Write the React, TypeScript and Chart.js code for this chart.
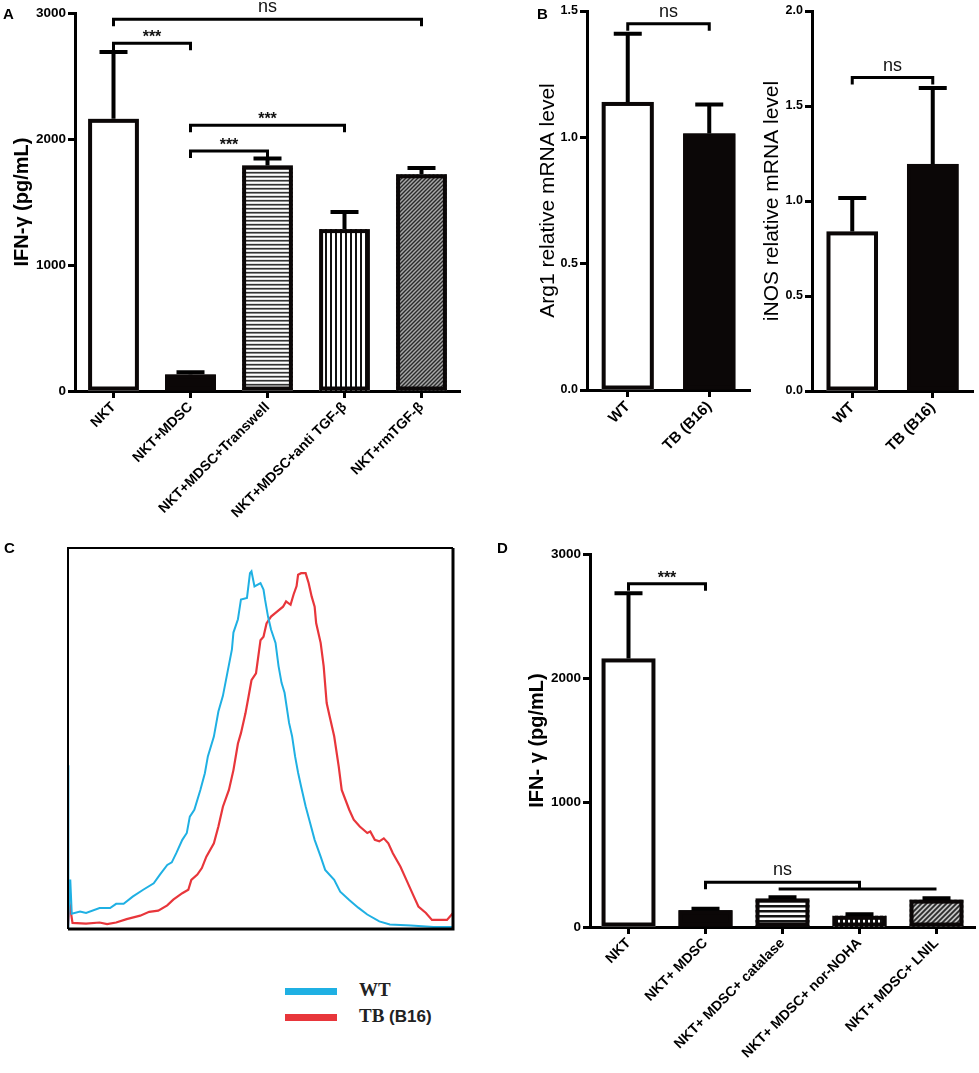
import { useEffect, useRef } from 'react';
import Chart from 'chart.js/auto';

const SANS = '"Liberation Sans", Arial, Helvetica, sans-serif';
const SERIF = '"Liberation Serif", "Times New Roman", serif';
const WT_BLUE = '#1fb0e3';
const TB_RED = '#e8363b';
const INK = '#0b0707';

// ---- panel A: IFN-γ with TGF-β blocking
const aLabels = ['NKT', 'NKT+MDSC', 'NKT+MDSC+Transwell', 'NKT+MDSC+anti TGF-β', 'NKT+rmTGF-β'];
const aMeans = [2160, 130, 1790, 1285, 1720];
const aErrors = [530, 18, 55, 135, 50];
const aFills = ['white', 'black', 'hlines', 'vlines', 'diag'];
const aTicks = [0, 1000, 2000, 3000];
const aBrackets = [
  { from: 0, to: 4, y: 2950, label: 'ns', legs: true },
  { from: 0, to: 1, y: 2760, label: '***', legs: true },
  { from: 1, to: 3, y: 2110, label: '***', legs: true },
  { from: 1, to: 2, y: 1905, label: '***', legs: true },
];

// ---- panel B: Arg1 / iNOS mRNA
const bLabels = ['WT', 'TB (B16)'];
const bFills = ['white', 'black'];
const arg1Means = [1.14, 1.015];
const arg1Errors = [0.27, 0.115];
const arg1Ticks = [0, 0.5, 1.0, 1.5];
const arg1Brackets = [{ from: 0, to: 1, y: 1.45, label: 'ns', legs: true }];
const inosMeans = [0.84, 1.195];
const inosErrors = [0.176, 0.4];
const inosTicks = [0, 0.5, 1.0, 1.5, 2.0];
const inosBrackets = [{ from: 0, to: 1, y: 1.65, label: 'ns', legs: true }];

// ---- panel C: flow histogram (channel, % of max)
const wtHistogram = [
  [0, 0], [0, 43], [0.5, 3], [1.5, 13], [2.5, 4], [8, 4.6], [12, 4.2], [21, 5.5], [28, 5.5], [32, 6.6],
  [37, 6.6], [43, 8.5], [50, 10.3], [57, 12.0], [61, 14.2], [66, 16.8], [69, 17.5], [72, 19.9], [76, 23.4],
  [79, 25.2], [81, 29.5], [84, 31.3], [88, 36.5], [91, 40.9], [93, 45.3], [97, 50.5], [100, 57.1],
  [103, 61.2], [106, 67.3], [109, 73.4], [110, 77.8], [113, 81.3], [115, 86.5], [119, 86.9], [121, 93.4],
  [122, 93.9], [124, 89.9], [128, 90.8], [130, 89.1], [131, 86.5], [133, 82.0], [135, 78.6], [138, 75.1],
  [140, 69.0], [142, 64.6], [144, 62.0], [147, 54.1], [149, 50.6], [151, 45.3], [153, 41.0], [155, 37.4],
  [158, 32.2], [161, 27.8], [164, 23.4], [168, 19.0], [171, 15.5], [177, 12.9], [181, 9.8], [187, 7.6],
  [193, 5.6], [199, 3.8], [207, 2.0], [214, 1.2], [228, 0.9], [243, 0.5], [256, 0.5],
];
const tbHistogram = [
  [0, 0.3], [1, 6.8], [3, 1.6], [12, 1.4], [21, 1.7], [26, 1.3], [32, 1.7], [39, 2.6], [48, 3.5], [54, 4.5],
  [60, 4.8], [66, 6.2], [70, 7.7], [76, 9.4], [80, 10.3], [82, 12.9], [86, 14.3], [89, 16.0], [92, 19.0],
  [97, 22.5], [100, 26.9], [103, 32.1], [107, 36.5], [110, 41.7], [113, 48.7], [115, 51.4], [118, 56.6],
  [120, 60.9], [122, 65.3], [125, 67.1], [128, 75.8], [130, 76.7], [132, 80.2], [135, 82.0], [139, 83.3],
  [143, 84.6], [145, 86.0], [148, 85.1], [150, 87.8], [152, 90.0], [153, 93.0], [155, 93.4], [158, 93.4],
  [160, 90.8], [162, 87.3], [164, 84.6], [165, 80.3], [168, 75.1], [170, 69.0], [172, 59.3], [174, 55.8],
  [177, 50.6], [180, 42.7], [182, 36.5], [187, 31.3], [190, 28.7], [194, 26.9], [199, 25.2], [201, 25.6],
  [204, 23.4], [207, 23.0], [210, 23.8], [213, 22.5], [216, 19.9], [221, 16.4], [225, 12.9], [230, 8.5],
  [233, 5.9], [238, 4.2], [242, 2.4], [252, 2.4], [256, 4.2],
];

// ---- panel D: IFN-γ with enzyme inhibitors
const dLabels = ['NKT', 'NKT+ MDSC', 'NKT+ MDSC+ catalase', 'NKT+ MDSC+ nor-NOHA', 'NKT+ MDSC+ LNIL'];
const dMeans = [2160, 135, 230, 90, 220];
const dErrors = [525, 12, 10, 12, 12];
const dFills = ['white', 'black', 'hlinesWide', 'vlinesShort', 'diagWide'];
const dTicks = [0, 1000, 2000, 3000];
const dBrackets = [
  { from: 0, to: 1, y: 2760, label: '***', legs: true },
  { from: 1, to: 3, y: 360, label: 'ns', legs: true },
  { from: 1.95, to: 4, y: 305, label: '', legs: false },
];

type Bracket = { from: number; to: number; y: number; label: string; legs: boolean };

function makeFill(kind: string): string | CanvasPattern {
  if (kind === 'white') return '#ffffff';
  if (kind === 'black') return INK;
  const c = document.createElement('canvas');
  const size = kind.endsWith('Wide') || kind === 'vlinesShort' || kind === 'vlines' ? 5 : 4;
  c.width = size;
  c.height = size;
  const g = c.getContext('2d')!;
  g.fillStyle = '#ffffff';
  g.fillRect(0, 0, size, size);
  if (kind === 'hlines') {
    g.fillStyle = '#333';
    g.fillRect(0, 0, size, 1);
    g.fillStyle = '#8a8a8a';
    g.fillRect(0, 1, size, 1);
    g.fillStyle = '#e0e0e0';
    g.fillRect(0, 3, size, 1);
  } else if (kind === 'hlinesWide') {
    g.fillStyle = '#151515';
    g.fillRect(0, 0, size, 2);
    g.fillStyle = '#888';
    g.fillRect(0, 2, size, 1);
  } else if (kind === 'vlines') {
    g.fillStyle = '#111';
    g.fillRect(0, 0, 2, size);
  } else if (kind === 'vlinesShort') {
    g.fillStyle = '#111';
    g.fillRect(0, 0, 3, size);
  } else {
    // diagonal hatch
    g.fillStyle = kind === 'diag' ? '#a8a8a8' : '#c4c4c4';
    g.fillRect(0, 0, size, size);
    g.strokeStyle = '#2a2a2a';
    g.lineWidth = kind === 'diag' ? 1.4 : 1.8;
    g.beginPath();
    g.moveTo(-1, size + 1);
    g.lineTo(size + 1, -1);
    g.moveTo(-1, 1);
    g.lineTo(1, -1);
    g.moveTo(size - 1, size + 1);
    g.lineTo(size + 1, size - 1);
    g.stroke();
  }
  return g.createPattern(c, 'repeat')!;
}

// bar outlines + upward SD whiskers
const errorBarPlugin = (errors: number[], cap: number) => ({
  id: 'errorBars',
  afterDatasetsDraw(chart: any) {
    const { ctx } = chart;
    const y = chart.scales.y;
    const meta = chart.getDatasetMeta(0);
    const values = chart.data.datasets[0].data as number[];
    ctx.save();
    ctx.strokeStyle = INK;
    ctx.lineWidth = 4;
    meta.data.forEach((bar: any) => {
      const { x, y: top, base, width } = bar.getProps(['x', 'y', 'base', 'width'], true);
      ctx.strokeRect(x - width / 2 + 2, top + 2, width - 4, base - top - 4);
    });
    ctx.strokeStyle = '#000';
    meta.data.forEach((bar: any, i: number) => {
      const top = y.getPixelForValue(values[i]);
      const end = y.getPixelForValue(values[i] + errors[i]);
      ctx.beginPath();
      ctx.moveTo(bar.x, top);
      ctx.lineTo(bar.x, end);
      ctx.moveTo(bar.x - cap / 2, end);
      ctx.lineTo(bar.x + cap / 2, end);
      ctx.stroke();
    });
    ctx.restore();
  },
});

const bracketPlugin = (items: Bracket[]) => ({
  id: 'brackets',
  afterDatasetsDraw(chart: any) {
    const { ctx } = chart;
    const { x, y } = chart.scales;
    ctx.save();
    ctx.strokeStyle = '#000';
    ctx.fillStyle = '#111';
    ctx.lineWidth = 3;
    items.forEach((b) => {
      const x1 = x.getPixelForValue(b.from);
      const x2 = x.getPixelForValue(b.to);
      const yy = y.getPixelForValue(b.y);
      ctx.beginPath();
      if (b.legs) {
        ctx.moveTo(x1, yy + 7);
        ctx.lineTo(x1, yy);
        ctx.lineTo(x2, yy);
        ctx.lineTo(x2, yy + 7);
      } else {
        ctx.moveTo(x1, yy);
        ctx.lineTo(x2, yy);
      }
      ctx.stroke();
      if (b.label) {
        ctx.textAlign = 'center';
        ctx.textBaseline = 'alphabetic';
        if (b.label === 'ns') {
          ctx.font = `18px ${SANS}`;
          ctx.fillText(b.label, (x1 + x2) / 2, yy - 7);
        } else {
          ctx.font = `bold 16px ${SANS}`;
          ctx.fillText(b.label, (x1 + x2) / 2, yy - 1);
        }
      }
    });
    ctx.restore();
  },
});

type BarProps = {
  left: number;
  top: number;
  width: number;
  height: number;
  labels: string[];
  values: number[];
  errors: number[];
  fills: string[];
  ticks: number[];
  decimals: number;
  title: string;
  titleSize: number;
  titleWeight: string;
  titleCenter: number;
  yWidth: number;
  xHeight: number;
  padTop: number;
  padRight: number;
  brackets: Bracket[];
  labelSize: number;
  tickSize: number;
  barPct: number;
  cap: number;
};

function BarPanel(p: BarProps) {
  const canvasRef = useRef<HTMLCanvasElement | null>(null);

  useEffect(() => {
    if (!canvasRef.current) return;
    const axisGrid = {
      display: true,
      drawOnChartArea: false,
      offset: false,
      tickLength: 7,
      tickWidth: 3,
      tickColor: '#000',
    };
    const chart = new Chart(canvasRef.current, {
      type: 'bar',
      data: {
        labels: p.labels,
        datasets: [
          {
            data: p.values,
            backgroundColor: p.fills.map(makeFill) as any,
            borderWidth: 0,
            barPercentage: p.barPct,
            categoryPercentage: 1,
          },
        ],
      },
      options: {
        animation: false,
        responsive: true,
        maintainAspectRatio: false,
        events: [],
        layout: { padding: { top: p.padTop, right: p.padRight, left: 0, bottom: 0 } },
        plugins: { legend: { display: false }, tooltip: { enabled: false } },
        scales: {
          x: {
            grid: axisGrid,
            border: { display: true, color: '#000', width: 3 },
            ticks: {
              color: '#000',
              font: { family: SANS, size: p.labelSize, weight: 'bold' },
              minRotation: 45,
              maxRotation: 45,
              autoSkip: false,
              padding: 1,
            },
            afterFit: (s: any) => {
              s.height = p.xHeight;
            },
          },
          y: {
            min: 0,
            max: p.ticks[p.ticks.length - 1],
            afterBuildTicks: (s: any) => {
              s.ticks = p.ticks.map((v) => ({ value: v }));
            },
            grid: axisGrid,
            border: { display: true, color: '#000', width: 3 },
            ticks: {
              color: '#000',
              font: { family: SANS, size: p.tickSize, weight: 'bold' },
              padding: 2,
              callback: (v: any) => Number(v).toFixed(p.decimals),
            },
            title: {
              display: true,
              text: p.title,
              color: '#000',
              font: { family: SANS, size: p.titleSize, weight: p.titleWeight as any },
              padding: { top: p.titleCenter - p.titleSize * 0.6, bottom: 0 },
            },
            afterFit: (s: any) => {
              s.width = p.yWidth;
            },
          },
        },
      },
      plugins: [errorBarPlugin(p.errors, p.cap), bracketPlugin(p.brackets)],
    });
    return () => chart.destroy();
  }, []);

  return (
    <div style={{ position: 'absolute', left: p.left, top: p.top, width: p.width, height: p.height }}>
      <canvas ref={canvasRef} />
    </div>
  );
}

const framePlugin = {
  id: 'frame',
  afterDatasetsDraw(chart: any) {
    const { ctx, chartArea: a } = chart;
    ctx.save();
    ctx.strokeStyle = '#000';
    ctx.lineWidth = 2;
    ctx.beginPath();
    ctx.moveTo(a.left, a.bottom);
    ctx.lineTo(a.left, a.top);
    ctx.lineTo(a.right, a.top);
    ctx.stroke();
    ctx.lineWidth = 3;
    ctx.beginPath();
    ctx.moveTo(a.right, a.top);
    ctx.lineTo(a.right, a.bottom);
    ctx.lineTo(a.left, a.bottom);
    ctx.stroke();
    ctx.restore();
  },
};

function HistogramPanel() {
  const canvasRef = useRef<HTMLCanvasElement | null>(null);

  useEffect(() => {
    if (!canvasRef.current) return;
    const chart = new Chart(canvasRef.current, {
      type: 'scatter',
      data: {
        datasets: [
          {
            label: 'WT',
            data: wtHistogram.map(([x, y]) => ({ x, y })),
            showLine: true,
            borderColor: WT_BLUE,
            borderWidth: 2,
            pointRadius: 0,
          },
          {
            label: 'TB (B16)',
            data: tbHistogram.map(([x, y]) => ({ x, y })),
            showLine: true,
            borderColor: TB_RED,
            borderWidth: 2.2,
            pointRadius: 0,
          },
        ],
      },
      options: {
        animation: false,
        responsive: true,
        maintainAspectRatio: false,
        events: [],
        layout: { padding: { left: 68, top: 8, right: 27, bottom: 31 } },
        plugins: { legend: { display: false }, tooltip: { enabled: false } },
        scales: {
          x: { type: 'linear', min: 0, max: 256, display: false },
          y: { min: 0, max: 100, display: false },
        },
      },
      plugins: [framePlugin],
    });
    return () => chart.destroy();
  }, []);

  return (
    <div style={{ position: 'absolute', left: 0, top: 540, width: 480, height: 420 }}>
      <canvas ref={canvasRef} />
    </div>
  );
}

const letterStyle = {
  position: 'absolute' as const,
  fontFamily: SANS,
  fontWeight: 'bold' as const,
  fontSize: 15,
  lineHeight: '15px',
  color: '#000',
};

export default function App() {
  return (
    <div style={{ position: 'absolute', left: 0, top: 0, width: 979, height: 1073, background: '#fff', overflow: 'hidden' }}>
      <BarPanel
        left={0} top={0} width={470} height={540}
        labels={aLabels} values={aMeans} errors={aErrors} fills={aFills}
        ticks={aTicks} decimals={0}
        title="IFN-γ (pg/mL)" titleSize={20} titleWeight="bold" titleCenter={22}
        yWidth={75} xHeight={149} padTop={13} padRight={10}
        brackets={aBrackets} labelSize={14} tickSize={13.5} barPct={0.66} cap={28}
      />
      <BarPanel
        left={490} top={0} width={265} height={540}
        labels={bLabels} values={arg1Means} errors={arg1Errors} fills={bFills}
        ticks={arg1Ticks} decimals={1}
        title="Arg1 relative mRNA level" titleSize={21} titleWeight="normal" titleCenter={58}
        yWidth={97} xHeight={150} padTop={11} padRight={5}
        brackets={arg1Brackets} labelSize={15} tickSize={12.5} barPct={0.64} cap={28}
      />
      <BarPanel
        left={755} top={0} width={224} height={540}
        labels={bLabels} values={inosMeans} errors={inosErrors} fills={bFills}
        ticks={inosTicks} decimals={1}
        title="iNOS relative mRNA level" titleSize={21} titleWeight="normal" titleCenter={17}
        yWidth={57} xHeight={149} padTop={11} padRight={6}
        brackets={inosBrackets} labelSize={15} tickSize={12.5} barPct={0.64} cap={28}
      />
      <HistogramPanel />
      <BarPanel
        left={490} top={540} width={489} height={533}
        labels={dLabels} values={dMeans} errors={dErrors} fills={dFills}
        ticks={dTicks} decimals={0}
        title="IFN- γ (pg/mL)" titleSize={20} titleWeight="bold" titleCenter={47}
        yWidth={100} xHeight={146} padTop={14} padRight={4}
        brackets={dBrackets} labelSize={14} tickSize={13.5} barPct={0.7} cap={28}
      />

      <div style={{ ...letterStyle, left: 3, top: 6 }}>A</div>
      <div style={{ ...letterStyle, left: 537, top: 6 }}>B</div>
      <div style={{ ...letterStyle, left: 4, top: 540 }}>C</div>
      <div style={{ ...letterStyle, left: 497, top: 540 }}>D</div>

      <div style={{ position: 'absolute', left: 285, top: 988, width: 52, height: 7, background: WT_BLUE }} />
      <div style={{ position: 'absolute', left: 285, top: 1014, width: 52, height: 7, background: TB_RED }} />
      <div style={{ position: 'absolute', left: 359, top: 980, fontFamily: SERIF, fontWeight: 'bold', fontSize: 19, lineHeight: '20px', color: '#222' }}>
        WT
      </div>
      <div style={{ position: 'absolute', left: 359, top: 1006, fontSize: 19, lineHeight: '20px', color: '#222', whiteSpace: 'nowrap' }}>
        <span style={{ fontFamily: SERIF, fontWeight: 'bold' }}>TB</span>
        <span style={{ fontFamily: SANS, fontWeight: 'bold', fontSize: 17 }}> (B16)</span>
      </div>
    </div>
  );
}
